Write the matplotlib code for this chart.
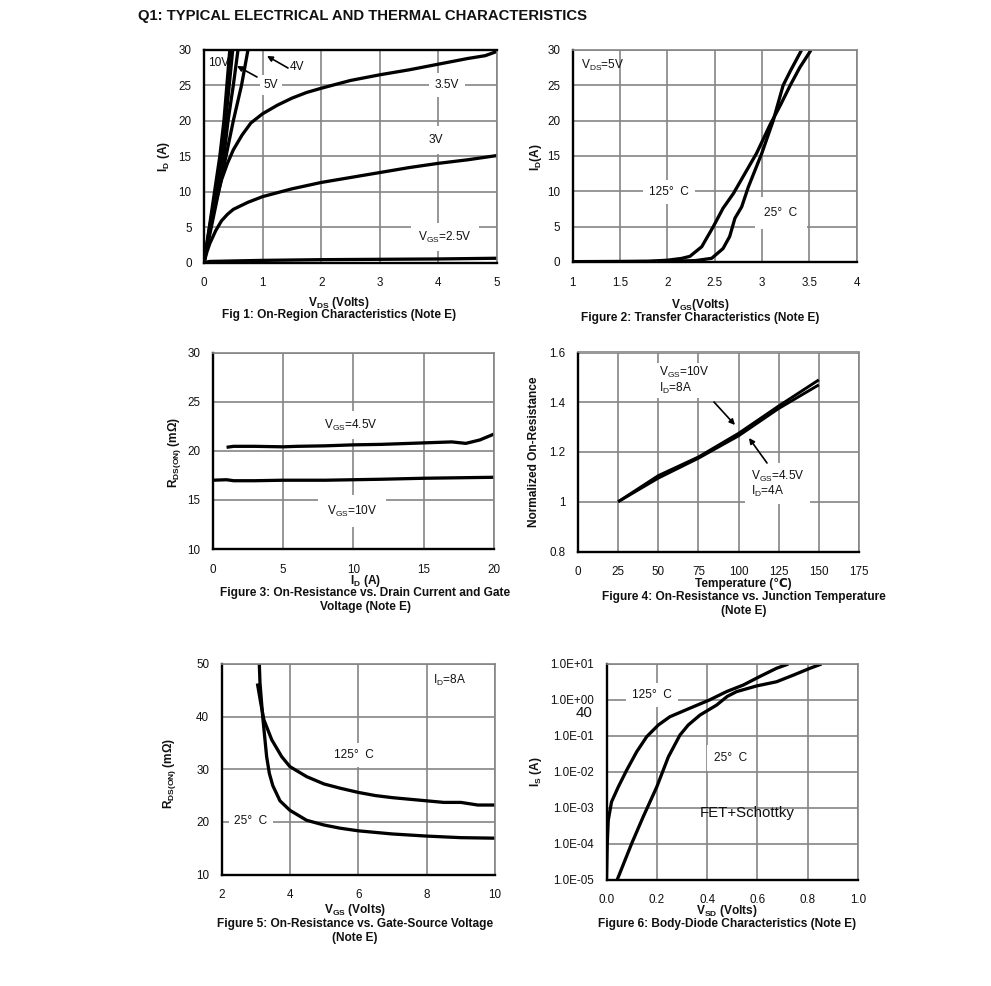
import matplotlib
matplotlib.use("Agg")
import matplotlib.pyplot as plt
from matplotlib.transforms import Affine2D

plt.rcParams['font.family'] = ['Liberation Sans', 'DejaVu Sans']
plt.rcParams['mathtext.fontset'] = 'custom'
plt.rcParams['mathtext.rm'] = 'Liberation Sans'
plt.rcParams['mathtext.bf'] = 'Liberation Sans:bold'
plt.rcParams['mathtext.it'] = 'Liberation Sans:italic'
plt.rcParams['mathtext.default'] = 'regular'

# Fig 1
v1_10v = [0, 0.1, 0.18, 0.27, 0.34, 0.39, 0.44]
i1_10v = [0, 5.5, 10, 15, 20, 25, 30]
v1_6v = [0, 0.1, 0.2, 0.3, 0.37, 0.43, 0.49]
i1_6v = [0, 5.2, 10, 15, 20, 25, 30]
v1_5v = [0, 0.1, 0.22, 0.34, 0.41, 0.5, 0.58]
i1_5v = [0, 4.8, 10, 15, 20, 25, 30]
v1_4v = [0, 0.1, 0.25, 0.375, 0.5, 0.64, 0.75]
i1_4v = [0, 4, 10, 15, 20, 25, 30]
v1_35 = [0, 0.05, 0.1, 0.2, 0.3, 0.4, 0.5, 0.65, 0.8, 1, 1.25, 1.5, 1.75, 2, 2.5, 3, 3.5, 4, 4.5, 4.8, 5]
i1_35 = [0, 2.2, 4.5, 8.5, 11.7, 14, 15.9, 18, 19.7, 21, 22.2, 23.2, 24, 24.6, 25.7, 26.5, 27.2, 28, 28.8, 29.2, 29.8]
v1_3 = [0, 0.05, 0.1, 0.2, 0.3, 0.4, 0.5, 0.75, 1, 1.5, 2, 2.5, 3, 3.5, 4, 4.5, 5]
i1_3 = [0, 1.5, 2.7, 4.5, 5.9, 6.8, 7.5, 8.5, 9.3, 10.4, 11.3, 12, 12.7, 13.4, 14, 14.5, 15.1]
v1_25 = [0, 0.1, 1, 2, 3, 4, 5]
i1_25 = [0, 0.15, 0.3, 0.4, 0.45, 0.5, 0.6]

# Fig 2
vg_125 = [1, 1.8, 2, 2.15, 2.24, 2.365, 2.487, 2.59, 2.7, 2.82, 2.945, 3.086, 3.2, 3.3, 3.4, 3.52]
id_125 = [0.05, 0.1, 0.25, 0.5, 0.8, 2.16, 5, 7.6, 9.7, 12.5, 15.4, 19.4, 22.3, 25, 27.5, 30]
vg_25 = [1, 2, 2.3, 2.47, 2.59, 2.66, 2.716, 2.787, 2.857, 3.0, 3.12, 3.225, 3.3, 3.42]
id_25 = [0, 0.1, 0.2, 0.52, 1.9, 3.6, 6.2, 7.8, 10.6, 15.4, 20, 25, 27, 30]

# Fig 3
id3_45 = [1, 1.5, 3, 5, 6, 8, 10, 12, 15, 17, 18, 19, 20]
r3_45 = [20.35, 20.45, 20.45, 20.4, 20.45, 20.5, 20.6, 20.65, 20.8, 20.9, 20.75, 21.1, 21.7]
id3_10 = [0, 1, 1.5, 3, 5, 8, 10, 12, 15, 20]
r3_10 = [17, 17.05, 16.95, 16.95, 17, 17, 17.05, 17.1, 17.2, 17.3]

# Fig 4
temp4 = [25, 50, 75, 100, 125, 150]
norm4_10 = [1, 1.105, 1.18, 1.275, 1.385, 1.49]
norm4_45 = [1, 1.095, 1.175, 1.265, 1.375, 1.47]

# Fig 5
vg5_125 = [3.05, 3.15, 3.24, 3.47, 3.76, 4, 4.49, 5, 5.47, 6, 6.5, 7, 8, 8.5, 9, 9.5, 10]
r5_125 = [46.3, 42.5, 39.4, 35.6, 32.4, 30.5, 28.6, 27.2, 26.4, 25.6, 25, 24.6, 24, 23.7, 23.7, 23.2, 23.2]
vg5_25 = [3.106, 3.126, 3.205, 3.32, 3.4, 3.5, 3.71, 4, 4.49, 5, 5.47, 6, 7, 8, 9, 10]
r5_25 = [50, 46.4, 40, 32.4, 29.2, 26.9, 24, 22.2, 20.3, 19.4, 18.8, 18.3, 17.7, 17.3, 17, 16.9]

# Fig 6
vs_125 = [0, 0.003, 0.007, 0.02, 0.047, 0.08, 0.12, 0.16, 0.206, 0.252, 0.332, 0.41, 0.477, 0.544, 0.61, 0.676, 0.723]
is_125 = [1e-5, 1.0e-4, 4.5e-4, 1.45e-3, 3.8e-3, 1.1e-2, 3.6e-2, 9.5e-2, 0.2, 0.34, 0.59, 1.0, 1.7, 2.6, 4.5, 7.6, 10]
vs_25 = [0.043, 0.1, 0.146, 0.2, 0.246, 0.292, 0.325, 0.372, 0.438, 0.48, 0.517, 0.597, 0.676, 0.743, 0.809, 0.855]
is_25 = [1e-5, 1e-4, 5.6e-4, 3.8e-3, 2.6e-2, 0.105, 0.2, 0.38, 0.72, 1.25, 1.7, 2.45, 3.2, 4.9, 7.6, 10]

y_ticks_6 = [1e-5, 1e-4, 1e-3, 1e-2, 1e-1, 1e0, 1e1]
y_labels_6 = ['1.0E-05', '1.0E-04', '1.0E-03', '1.0E-02', '1.0E-01', '1.0E+00', '1.0E+01']

W, H = 991, 986
fig = plt.figure(figsize=(W / 100, H / 100), dpi=100, facecolor='white')
px = Affine2D().scale(1 / W, -1 / H).translate(0, 1) + fig.transFigure
GRID = '#858585'
FS = 8.6
TICK_FS = 8.4


def make_axes(left, right, top, bottom, xlim, ylim, xticks, yticks, xlabel, ylabel,
              xlabel_pos, ylabel_pos, top_black=False):
    ax = fig.add_axes([left / W, 1 - bottom / H, (right - left) / W, (bottom - top) / H])
    ax.set_xlim(*xlim)
    ax.set_ylim(*ylim)
    ax.set_xticks(xticks)
    ax.set_yticks(yticks)
    ax.set_axisbelow(True)
    ax.grid(True, color=GRID, lw=1.2)
    ax.tick_params(length=0, labelsize=TICK_FS, labelcolor='#111111')
    ax.tick_params(axis='x', pad=10.5)
    ax.tick_params(axis='y', pad=9)
    for side in ('left', 'bottom'):
        ax.spines[side].set_color('black')
        ax.spines[side].set_linewidth(1.7)
    for side in ('top', 'right'):
        ax.spines[side].set_color(GRID)
        ax.spines[side].set_linewidth(1.2)
    if top_black:
        ax.spines['top'].set_color('black')
        ax.spines['top'].set_linewidth(1.7)
    ax.set_xlabel(xlabel, fontsize=FS, fontweight='bold', color='#111111', va='center')
    ax.set_ylabel(ylabel, fontsize=FS, fontweight='bold', color='#111111', va='center')
    ax.xaxis.set_label_coords(*xlabel_pos, transform=px)
    ax.yaxis.set_label_coords(*ylabel_pos, transform=px)
    return ax


def curve(ax, x, y, lw=2.35):
    ax.plot(x, y, color='black', lw=lw, zorder=2, solid_joinstyle='round', solid_capstyle='butt')


def caption(x, y, s):
    fig.text(x, y, s, transform=px, ha='center', va='center', fontsize=FS,
             fontweight='bold', color='#111111', linespacing=1.25)


def arrow(start, end):
    fig.add_artist(plt.Annotation('', xy=end, xytext=start, xycoords=px, textcoords=px,
                                  arrowprops=dict(arrowstyle='-|>', color='black', lw=1.2,
                                                  mutation_scale=8, shrinkA=0, shrinkB=0)))


def axnote(ax, x, y, s, pad=None, ha='center', fs=FS, ls=1.2):
    kw = {}
    if pad is not None:
        kw['bbox'] = dict(facecolor='white', edgecolor='none', pad=pad)
    ax.text(x, y, s, transform=px, ha=ha, va='center', fontsize=fs, color='#111111',
            zorder=1.5, linespacing=ls, clip_on=False, **kw)


# Title
fig.text(138, 16, 'Q1: TYPICAL ELECTRICAL AND THERMAL CHARACTERISTICS', transform=px,
         ha='left', va='center', fontsize=10.75, fontweight='bold', color='#111111')

# Figure 1
a1 = make_axes(204, 497, 50, 262.5, (0, 5), (0, 30), [0, 1, 2, 3, 4, 5], range(0, 31, 5),
               'V$_{DS}$ (Volts)', 'I$_{D}$ (A)', (339, 303), (164.5, 157), top_black=True)
for vx, ix in ((v1_10v, i1_10v), (v1_6v, i1_6v), (v1_5v, i1_5v), (v1_4v, i1_4v),
               (v1_35, i1_35), (v1_3, i1_3), (v1_25, i1_25)):
    curve(a1, vx, ix)
caption(339, 315, 'Fig 1: On-Region Characteristics (Note E)')

# Figure 2
a2 = make_axes(572.5, 856.5, 50, 262, (1, 4), (0, 30), [1, 1.5, 2, 2.5, 3, 3.5, 4], range(0, 31, 5),
               'V$_{GS}$(Volts)', 'I$_{D}$(A)', (700, 305), (536.5, 157))
a2.set_xticklabels(['1', '1.5', '2', '2.5', '3', '3.5', '4'])
curve(a2, vg_125, id_125)
curve(a2, vg_25, id_25)
caption(700, 318, 'Figure 2: Transfer Characteristics (Note E)')

# Figure 3
a3 = make_axes(212.5, 494, 352.5, 549, (0, 20), (10, 30), [0, 5, 10, 15, 20], [10, 15, 20, 25, 30],
               'I$_{D}$ (A)', 'R$_{DS(ON)}$ (mΩ)', (365, 581), (174.5, 452))
curve(a3, id3_45, r3_45)
curve(a3, id3_10, r3_10)
caption(365, 600, 'Figure 3: On-Resistance vs. Drain Current and Gate\nVoltage (Note E)')

# Figure 4
a4 = make_axes(578, 859, 352.5, 551.5, (0, 175), (0.8, 1.6), range(0, 176, 25),
               [0.8, 1, 1.2, 1.4, 1.6], 'Temperature (℃)', 'Normalized On-Resistance',
               (743.5, 584), (534, 452))
a4.set_yticklabels(['0.8', '1', '1.2', '1.4', '1.6'])
curve(a4, temp4, norm4_10, lw=2.1)
curve(a4, temp4, norm4_45, lw=2.1)
caption(744, 604, 'Figure 4: On-Resistance vs. Junction Temperature\n(Note E)')

# Figure 5
a5 = make_axes(221.5, 495, 664, 874.5, (2, 10), (10, 50), [2, 4, 6, 8, 10], [10, 20, 30, 40, 50],
               'V$_{GS}$ (Volts)', 'R$_{DS(ON)}$ (mΩ)', (355, 910), (169.5, 773))
curve(a5, vg5_125, r5_125)
curve(a5, vg5_25, r5_25)
caption(355, 931, 'Figure 5: On-Resistance vs. Gate-Source Voltage\n(Note E)')

# Figure 6
a6 = make_axes(606.5, 858, 664, 879.5, (0, 1), (1e-5, 10), [0, 0.2, 0.4, 0.6, 0.8, 1.0], [1, 10],
               'V$_{SD}$ (Volts)', 'I$_{S}$ (A)', (727, 911), (536.5, 772))
a6.set_yscale('log')
a6.set_ylim(1e-5, 10)
a6.set_yticks(y_ticks_6)
a6.set_yticklabels(y_labels_6)
a6.minorticks_off()
a6.set_xticklabels(['0.0', '0.2', '0.4', '0.6', '0.8', '1.0'])
curve(a6, vs_125, is_125)
curve(a6, vs_25, is_25)
caption(727, 924, 'Figure 6: Body-Diode Characteristics (Note E)')

# Labels
axnote(a1, 219, 63, '10V')
axnote(a1, 271, 85, '5V', pad=3)
axnote(a1, 297, 67, '4V', pad=3)
axnote(a1, 447, 85, '3.5V', pad=4)
axnote(a1, 436, 140, '3V', pad=6)
axnote(a1, 445, 237, 'V$_{GS}$=2.5V', pad=5)
axnote(a2, 603, 65, 'V$_{DS}$=5V')
axnote(a2, 669, 192, '125°  C', pad=4)
axnote(a2, 781, 213, '25°  C', pad=7)
axnote(a3, 351, 425, 'V$_{GS}$=4.5V', pad=5)
axnote(a3, 352, 511, 'V$_{GS}$=10V', pad=6)
axnote(a4, 659, 380.5, 'V$_{GS}$=10V\nI$_{D}$=8A', pad=2, ha='left', ls=1.0)
axnote(a4, 751, 483.5, 'V$_{GS}$=4.5V\nI$_{D}$=4A', pad=4, ha='left', ls=1.0)
axnote(a5, 450, 680, 'I$_{D}$=8A')
axnote(a5, 354, 755, '125°  C', pad=4)
axnote(a5, 251, 821, '25°  C', pad=4)
axnote(a6, 652, 695, '125°  C', pad=4)
axnote(a6, 731, 758, '25°  C', pad=5)
axnote(a6, 747, 813, 'FET+Schottky', fs=10.8)
axnote(a6, 584, 713, '40', fs=10.8)

arrow((288, 68), (267, 56))
arrow((257, 77), (237, 66))
arrow((714, 402), (735, 425))
arrow((767, 463), (749, 438))

fig.savefig('out.png', dpi=100, facecolor='white')
